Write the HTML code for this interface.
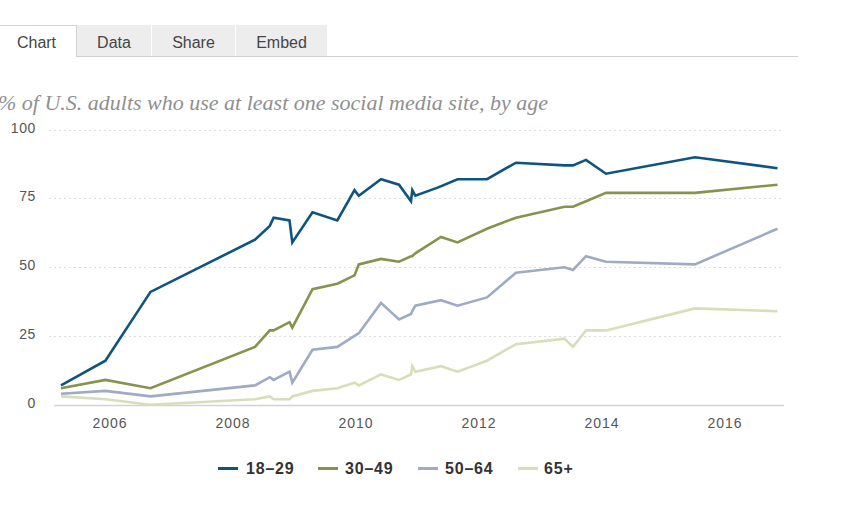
<!DOCTYPE html>
<html><head><meta charset="utf-8">
<style>
html,body{margin:0;padding:0;background:#fff;}
body{width:841px;height:505px;position:relative;overflow:hidden;font-family:"Liberation Sans",sans-serif;}
.tabs{position:absolute;left:0;top:0;width:841px;height:60px;}
.tab{position:absolute;top:25px;height:31px;background:#ededed;color:#454545;font-size:16px;line-height:31px;text-align:center;box-sizing:border-box;}
.tab.active{background:#fff;border-top:1px solid #d3d3d3;border-right:1px solid #d3d3d3;line-height:30px;}
.bline{position:absolute;left:76px;top:56px;width:722px;height:1px;background:#cfcfcf;}
.title{position:absolute;left:-2px;top:90px;font-family:"Liberation Serif",serif;font-style:italic;font-size:22px;color:#8f8f8f;white-space:nowrap;}
.yl{position:absolute;left:0;width:36px;letter-spacing:0.6px;text-align:right;font-size:14px;line-height:18px;color:#555;}
.xl{position:absolute;top:414px;letter-spacing:1px;width:60px;text-align:center;font-size:14px;line-height:18px;color:#555;}
svg{position:absolute;left:0;top:0;}
.tt{position:relative;top:2px;}
.leg{position:absolute;top:460px;height:18px;font-size:16px;font-weight:bold;color:#333;letter-spacing:0.8px;line-height:18px;}
.sw{position:absolute;top:467px;width:20px;height:3px;}
</style></head><body>
<div class="tabs">
<div class="tab active" style="left:-3px;width:80px;"><span class="tt">Chart</span></div>
<div class="tab" style="left:77px;width:74px;"><span class="tt">Data</span></div>
<div class="tab" style="left:152px;width:83px;"><span class="tt">Share</span></div>
<div class="tab" style="left:236px;width:91px;"><span class="tt">Embed</span></div>
<div class="bline"></div>
</div>
<div class="title">% of U.S. adults who use at least one social media site, by age</div>
<div class="yl" style="top:394px">0</div>
<div class="yl" style="top:325px">25</div>
<div class="yl" style="top:256px">50</div>
<div class="yl" style="top:187px">75</div>
<div class="yl" style="top:119px">100</div>
<div class="xl" style="left:80px">2006</div>
<div class="xl" style="left:203px">2008</div>
<div class="xl" style="left:326px">2010</div>
<div class="xl" style="left:449px">2012</div>
<div class="xl" style="left:572px">2014</div>
<div class="xl" style="left:695px">2016</div>
<svg width="841" height="505" viewBox="0 0 841 505">
<line x1="49" y1="336.5" x2="783" y2="336.5" stroke="#dddddd" stroke-width="1" stroke-dasharray="2 3"/>
<line x1="49" y1="267.5" x2="783" y2="267.5" stroke="#dddddd" stroke-width="1" stroke-dasharray="2 3"/>
<line x1="49" y1="198.5" x2="783" y2="198.5" stroke="#dddddd" stroke-width="1" stroke-dasharray="2 3"/>
<line x1="49" y1="130.5" x2="783" y2="130.5" stroke="#dddddd" stroke-width="1" stroke-dasharray="2 3"/>
<line x1="54" y1="405.5" x2="784" y2="405.5" stroke="#cfd4d9" stroke-width="1.5"/>
<polyline points="61.0,396.4 105.4,399.2 150.5,404.7 255.0,399.2 269.8,396.4 273.6,399.2 289.5,399.2 292.3,396.4 312.5,390.9 337.3,388.2 354.5,382.7 358.8,385.4 381.0,374.4 399.0,379.9 411.0,374.4 412.3,366.2 415.3,371.7 441.0,366.2 457.5,371.7 487.0,360.7 516.0,344.2 564.5,338.7 573.0,346.9 586.0,330.4 606.0,330.4 695.0,308.4 777.5,311.2" fill="none" stroke="#d8ddba" stroke-width="2.6" stroke-linejoin="miter" stroke-miterlimit="4"/>
<polyline points="61.0,393.7 105.4,390.9 150.5,396.4 255.0,385.4 269.8,377.2 273.6,379.9 289.5,371.7 292.3,382.7 312.5,349.7 337.3,346.9 354.5,335.9 358.8,333.2 381.0,302.9 399.0,319.4 411.0,313.9 412.3,311.2 415.3,305.7 441.0,300.2 457.5,305.7 487.0,297.4 516.0,272.7 564.5,267.2 573.0,269.9 586.0,256.2 606.0,261.7 695.0,264.4 777.5,228.7" fill="none" stroke="#9eabc3" stroke-width="2.6" stroke-linejoin="miter" stroke-miterlimit="4"/>
<polyline points="61.0,388.2 105.4,379.9 150.5,388.2 255.0,346.9 269.8,330.4 273.6,330.4 289.5,322.2 292.3,327.7 312.5,289.2 337.3,283.7 354.5,275.4 358.8,264.4 381.0,258.9 399.0,261.7 411.0,256.2 412.3,256.2 415.3,253.4 441.0,236.9 457.5,242.4 487.0,228.7 516.0,217.7 564.5,206.7 573.0,206.7 586.0,201.2 606.0,192.9 695.0,192.9 777.5,184.7" fill="none" stroke="#86934d" stroke-width="2.6" stroke-linejoin="miter" stroke-miterlimit="4"/>
<polyline points="61.0,385.4 105.4,360.7 150.5,291.9 255.0,239.7 269.8,225.9 273.6,217.7 289.5,220.4 292.3,242.4 312.5,212.2 337.3,220.4 354.5,190.2 358.8,195.7 381.0,179.2 399.0,184.7 411.0,201.2 412.3,190.2 415.3,195.7 438.3,187.4 457.5,179.2 487.0,179.2 516.0,162.7 564.5,165.4 573.0,165.4 586.0,159.9 606.0,173.7 695.0,157.2 777.5,168.2" fill="none" stroke="#0f5480" stroke-width="2.6" stroke-linejoin="miter" stroke-miterlimit="4"/>
</svg>
<div class="sw" style="left:218px;background:#0f5480"></div><div class="leg" style="left:246px">18–29</div>
<div class="sw" style="left:318px;background:#86934d"></div><div class="leg" style="left:345px">30–49</div>
<div class="sw" style="left:418px;background:#9eabc3"></div><div class="leg" style="left:445px">50–64</div>
<div class="sw" style="left:518px;background:#d8ddba"></div><div class="leg" style="left:544px">65+</div>
</body></html>
